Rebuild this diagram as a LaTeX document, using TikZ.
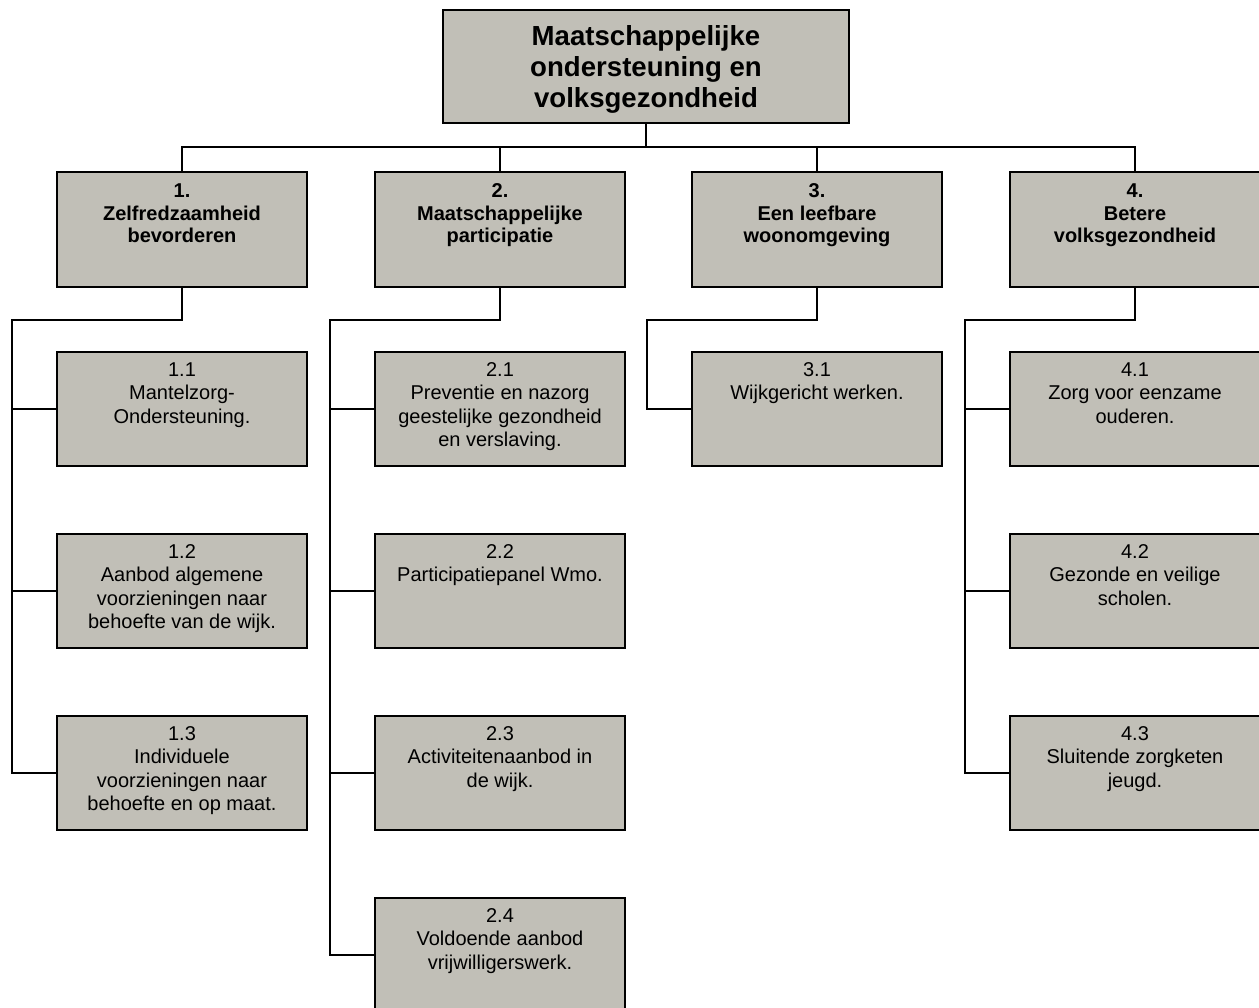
\documentclass[tikz,border=0pt]{standalone}
\usepackage{fontspec}
\setmainfont{Liberation Sans}
\definecolor{boxfill}{RGB}{193,191,183}
\newcommand{\boxtxt}[4]{\parbox[c][#2][t]{#1}{\centering\vspace*{#3}\strut #4\par}}
\newcommand{\subtxt}[1]{\boxtxt{250pt}{114pt}{10.5pt}{\fontsize{20}{23.5}\selectfont #1}}
\newcommand{\goaltxt}[1]{\boxtxt{250pt}{115pt}{12pt}{\fontsize{20}{22.5}\selectfont\bfseries #1}}
\begin{document}
\begin{tikzpicture}[x=1pt,y=-1pt,
  box/.style={draw, line width=1.6pt, fill=boxfill, inner sep=0pt, outer sep=0pt},
  conn/.style={draw, line width=1.6pt}]
\useasboundingbox (0,0) rectangle (1259,1008);
% title
\node[box] (top) at (646,66.5) {\boxtxt{406pt}{113pt}{16pt}{\fontsize{27.6}{31}\selectfont\bfseries Maatschappelijke\\ondersteuning en\\volksgezondheid}};
% goals
\node[box] (g1) at (182,229.5) {\goaltxt{1.\\Zelfredzaamheid\\bevorderen}};
\node[box] (g2) at (500,229.5) {\goaltxt{2.\\Maatschappelijke\\participatie}};
\node[box] (g3) at (817,229.5) {\goaltxt{3.\\Een leefbare\\woonomgeving}};
\node[box] (g4) at (1135,229.5) {\goaltxt{4.\\Betere\\volksgezondheid}};
% sub goals
\node[box] (c11) at (182,409) {\subtxt{1.1\\Mantelzorg-\\Ondersteuning.}};
\node[box] (c12) at (182,591) {\subtxt{1.2\\Aanbod algemene\\voorzieningen naar\\behoefte van de wijk.}};
\node[box] (c13) at (182,773) {\subtxt{1.3\\Individuele\\voorzieningen naar\\behoefte en op maat.}};
\node[box] (c21) at (500,409) {\subtxt{2.1\\Preventie en nazorg\\geestelijke gezondheid\\en verslaving.}};
\node[box] (c22) at (500,591) {\subtxt{2.2\\Participatiepanel Wmo.}};
\node[box] (c23) at (500,773) {\subtxt{2.3\\Activiteitenaanbod in\\de wijk.}};
\node[box] (c24) at (500,955) {\subtxt{2.4\\Voldoende aanbod\\vrijwilligerswerk.}};
\node[box] (c31) at (817,409) {\subtxt{3.1\\Wijkgericht werken.}};
\node[box] (c41) at (1135,409) {\subtxt{4.1\\Zorg voor eenzame\\ouderen.}};
\node[box] (c42) at (1135,591) {\subtxt{4.2\\Gezonde en veilige\\scholen.}};
\node[box] (c43) at (1135,773) {\subtxt{4.3\\Sluitende zorgketen\\jeugd.}};
% connectors top level
\coordinate (bus) at (646,147);
\draw[conn] (top.south) -- (bus);
\draw[conn] (g1.north) |- (bus);
\draw[conn] (g4.north) |- (bus);
\draw[conn] (g2.north) -- (g2.north |- bus);
\draw[conn] (g3.north) -- (g3.north |- bus);
% spines
\coordinate (s1) at (12,320);
\coordinate (s2) at (330,320);
\coordinate (s3) at (647,320);
\coordinate (s4) at (965,320);
\draw[conn] (g1.south) |- (s1) |- (c13.west);
\draw[conn] (c11.west) -- (c11.west -| s1);
\draw[conn] (c12.west) -- (c12.west -| s1);
\draw[conn] (g2.south) |- (s2) |- (c24.west);
\draw[conn] (c21.west) -- (c21.west -| s2);
\draw[conn] (c22.west) -- (c22.west -| s2);
\draw[conn] (c23.west) -- (c23.west -| s2);
\draw[conn] (g3.south) |- (s3) |- (c31.west);
\draw[conn] (g4.south) |- (s4) |- (c43.west);
\draw[conn] (c41.west) -- (c41.west -| s4);
\draw[conn] (c42.west) -- (c42.west -| s4);
\end{tikzpicture}
\end{document}
